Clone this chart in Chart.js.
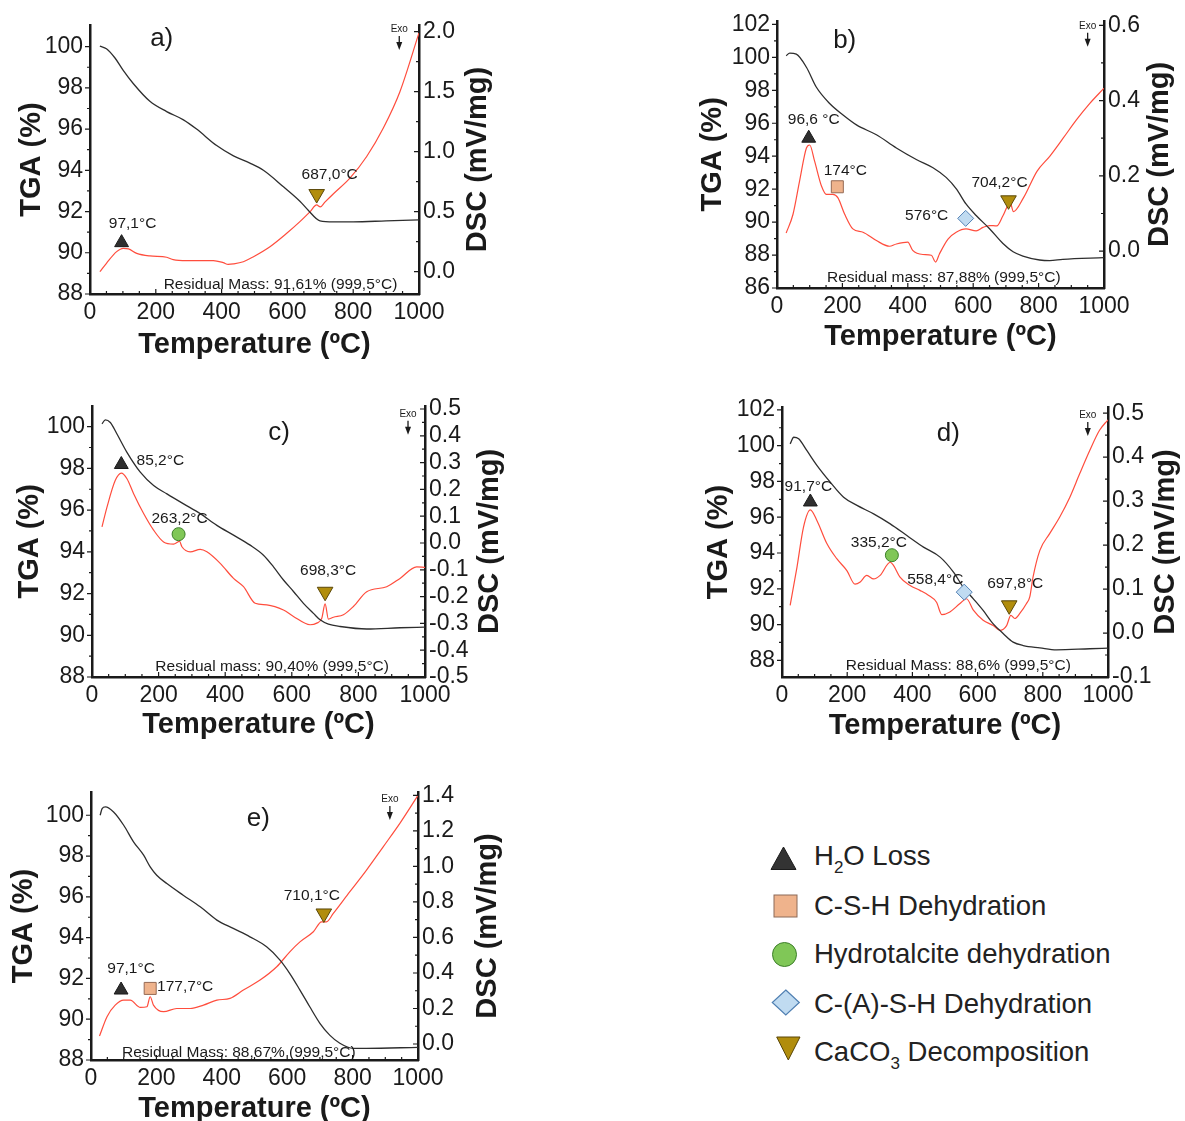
<!DOCTYPE html>
<html>
<head>
<meta charset="utf-8">
<script src="https://cdn.jsdelivr.net/npm/chart.js@4.4.1/dist/chart.umd.min.js"></script>
<style>
  body { margin: 0; background: #fff; width: 1185px; height: 1121px; position: relative; overflow: hidden;
         font-family: "Liberation Sans", Arial, sans-serif; }
  canvas { position: absolute; }
  #legend { position: absolute; left: 740px; top: 820px; }
</style>
</head>
<body>
<canvas id="pa"></canvas>
<canvas id="pb"></canvas>
<canvas id="pc"></canvas>
<canvas id="pd"></canvas>
<canvas id="pe"></canvas>
<svg id="legend" width="445" height="260" font-family="Liberation Sans, Arial, sans-serif" font-size="27.5" fill="#222">
  <polygon points="43.5,27 31,49.5 56,49.5" fill="#333" stroke="#1c1c1c" stroke-width="1"/>
  <text x="74" y="45">H<tspan font-size="17" dy="8">2</tspan><tspan dy="-8">O Loss</tspan></text>
  <rect x="34" y="75" width="23" height="22" fill="#efb38c" stroke="#8c6a58" stroke-width="1"/>
  <text x="74" y="95">C-S-H Dehydration</text>
  <circle cx="44.5" cy="134.5" r="12" fill="#80c757" stroke="#3d7f2a" stroke-width="1"/>
  <text x="74" y="143">Hydrotalcite dehydration</text>
  <polygon points="45.8,170 59.3,182.5 45.8,195 32.3,182.5" fill="#c0dbf1" stroke="#4f7fb2" stroke-width="1.2"/>
  <text x="74" y="192.5">C-(A)-S-H Dehydration</text>
  <polygon points="36.7,217 60,217 48.3,240" fill="#b18d0c" stroke="#5a4708" stroke-width="1"/>
  <text x="74" y="240.5">CaCO<tspan font-size="17" dy="8">3</tspan><tspan dy="-8"> Decomposition</tspan></text>
</svg>
<script>
// ---- panel a) ----
const aTgaT = [30, 50, 76, 101, 132, 182, 233, 284, 324, 385, 436, 486, 527, 588, 638, 664, 699, 740, 800, 900, 1000];
const aTga = [100.03, 99.9, 99.45, 98.85, 98.2, 97.35, 96.85, 96.45, 96.0, 95.2, 94.7, 94.35, 94.0, 93.2, 92.5, 92.05, 91.55, 91.5, 91.5, 91.55, 91.6];
const aDscT = [30, 50, 81, 101, 117, 142, 182, 233, 253, 294, 334, 375, 405, 420, 436, 466, 497, 547, 598, 638, 669, 689, 700, 714, 740, 790, 841, 892, 942, 1000];
const aDsc = [0.0, 0.07, 0.167, 0.195, 0.19, 0.153, 0.131, 0.12, 0.1, 0.092, 0.092, 0.092, 0.075, 0.061, 0.065, 0.083, 0.125, 0.208, 0.32, 0.417, 0.5, 0.556, 0.54, 0.58, 0.65, 0.78, 0.96, 1.2, 1.5, 1.99];
const aMarkKind = ['h2o', 'caco3'];
const aMarkT = [96, 689];
const aMarkDsc = [0.242, 0.647];
const aMarkLabel = ['97,1°C', '687,0°C'];
const aTgaTicks = [88, 90, 92, 94, 96, 98, 100];
const aDscTicks = [0, 0.5, 1.0, 1.5, 2.0];

// ---- panel b) ----
const bTgaT = [28, 39, 59, 90, 120, 161, 202, 243, 304, 365, 426, 477, 518, 549, 578, 609, 650, 691, 722, 752, 803, 834, 874, 1000];
const bTga = [100.1, 100.26, 100.2, 99.4, 98.2, 97.2, 96.5, 95.9, 95.3, 94.5, 93.8, 93.3, 92.7, 92.0, 91.1, 90.4, 89.6, 88.7, 88.2, 87.94, 87.7, 87.66, 87.74, 87.84];
const bDscT = [28, 49, 69, 90, 100, 115, 136, 151, 171, 186, 207, 232, 263, 304, 344, 365, 400, 415, 446, 472, 485, 497, 523, 548, 578, 609, 630, 650, 672, 691, 713, 723, 754, 795, 834, 875, 915, 956, 1000];
const bDsc = [0.048, 0.098, 0.186, 0.274, 0.282, 0.239, 0.173, 0.151, 0.151, 0.142, 0.098, 0.059, 0.05, 0.028, 0.013, 0.019, 0.024, 0.002, -0.009, -0.011, -0.029, -0.007, 0.032, 0.05, 0.059, 0.054, 0.063, 0.068, 0.067, 0.094, 0.129, 0.105, 0.142, 0.212, 0.252, 0.3, 0.348, 0.392, 0.433];
const bMarkKind = ['h2o', 'csh', 'cash', 'caco3'];
const bMarkT = [97, 184.5, 577, 708];
const bMarkDsc = [0.3, 0.171, 0.087, 0.135];
const bMarkLabel = ['96,6 °C', '174°C', '576°C', '704,2°C'];
const bTgaTicks = [86, 88, 90, 92, 94, 96, 98, 100, 102];
const bDscTicks = [0, 0.2, 0.4, 0.6];

// ---- panel c) ----
const cTgaT = [30, 40, 55, 75, 105, 145, 185, 225, 275, 325, 375, 425, 475, 515, 545, 575, 605, 635, 665, 685, 710, 745, 825, 925, 1000];
const cTga = [100.13, 100.33, 100.2, 99.65, 98.77, 97.82, 97.18, 96.78, 96.3, 95.83, 95.27, 94.8, 94.32, 93.84, 93.28, 92.65, 92.1, 91.53, 91.05, 90.74, 90.53, 90.42, 90.3, 90.36, 90.39];
const cDscT = [30, 45, 70, 88, 105, 125, 155, 185, 215, 245, 263, 270, 295, 325, 345, 385, 425, 455, 490, 525, 575, 605, 655, 675, 690, 700, 710, 725, 755, 785, 825, 885, 925, 975, 1000];
const cDsc = [0.06, 0.134, 0.234, 0.261, 0.24, 0.184, 0.11, 0.048, 0.004, -0.004, 0.006, -0.014, -0.033, -0.024, -0.033, -0.076, -0.132, -0.163, -0.225, -0.231, -0.25, -0.274, -0.305, -0.299, -0.281, -0.227, -0.284, -0.277, -0.268, -0.237, -0.182, -0.163, -0.132, -0.089, -0.091];
const cMarkKind = ['h2o', 'ht', 'caco3'];
const cMarkT = [88, 260, 700];
const cMarkDsc = [0.293, 0.033, -0.182];
const cMarkLabel = ['85,2°C', '263,2°C', '698,3°C'];
const cTgaTicks = [88, 90, 92, 94, 96, 98, 100];
const cDscTicks = [-0.5, -0.4, -0.3, -0.2, -0.1, 0, 0.1, 0.2, 0.3, 0.4, 0.5];

// ---- panel d) ----
const dTgaT = [25, 36, 51, 76, 107, 148, 189, 230, 281, 332, 383, 434, 485, 526, 556, 587, 617, 648, 679, 709, 740, 791, 842, 944, 1000];
const dTga = [100.1, 100.47, 100.38, 99.73, 98.9, 97.96, 97.12, 96.66, 96.19, 95.63, 94.98, 94.33, 93.77, 92.93, 92.09, 91.44, 90.79, 90.04, 89.49, 89.02, 88.83, 88.7, 88.59, 88.65, 88.68];
const dDscT = [25, 46, 66, 87, 107, 138, 168, 199, 224, 240, 260, 281, 301, 332, 342, 362, 393, 423, 449, 474, 490, 515, 546, 566, 587, 617, 648, 668, 689, 702, 714, 730, 750, 760, 770, 791, 821, 852, 883, 913, 944, 974, 1000];
const dDsc = [0.063, 0.15, 0.241, 0.28, 0.256, 0.203, 0.169, 0.142, 0.111, 0.116, 0.131, 0.123, 0.131, 0.161, 0.154, 0.127, 0.108, 0.097, 0.086, 0.07, 0.042, 0.048, 0.067, 0.078, 0.052, 0.029, 0.017, 0.006, 0.017, 0.04, 0.033, 0.045, 0.067, 0.082, 0.127, 0.188, 0.226, 0.264, 0.309, 0.362, 0.415, 0.461, 0.485];
const dMarkKind = ['h2o', 'ht', 'cash', 'caco3'];
const dMarkT = [87, 337, 559, 697];
const dMarkDsc = [0.298, 0.177, 0.093, 0.063];
const dMarkLabel = ['91,7°C', '335,2°C', '558,4°C', '697,8°C'];
const dTgaTicks = [88, 90, 92, 94, 96, 98, 100, 102];
const dDscTicks = [-0.1, 0, 0.1, 0.2, 0.3, 0.4, 0.5];

// ---- panel e) ----
const eTgaT = [28, 34, 44, 69, 100, 130, 161, 181, 201, 232, 282, 334, 385, 435, 486, 537, 578, 608, 639, 669, 700, 730, 761, 802, 842, 1000];
const eTga = [100.0, 100.33, 100.41, 100.16, 99.51, 98.7, 98.04, 97.47, 97.06, 96.65, 96.08, 95.51, 94.86, 94.45, 94.04, 93.55, 92.9, 92.24, 91.43, 90.61, 89.8, 89.22, 88.82, 88.57, 88.57, 88.62];
const eDscT = [26, 49, 74, 100, 120, 151, 171, 181, 191, 222, 262, 303, 344, 385, 425, 466, 517, 568, 608, 639, 680, 705, 720, 741, 791, 842, 893, 944, 1000];
const eDsc = [0.045, 0.154, 0.219, 0.247, 0.247, 0.206, 0.21, 0.266, 0.219, 0.182, 0.2, 0.2, 0.219, 0.247, 0.257, 0.304, 0.36, 0.435, 0.519, 0.575, 0.632, 0.688, 0.688, 0.735, 0.856, 0.978, 1.109, 1.241, 1.4];
const eMarkKind = ['h2o', 'csh', 'caco3'];
const eMarkT = [92, 181, 712];
const eMarkDsc = [0.304, 0.313, 0.735];
const eMarkLabel = ['97,1°C', '177,7°C', '710,1°C'];
const eTgaTicks = [88, 90, 92, 94, 96, 98, 100];
const eDscTicks = [0, 0.2, 0.4, 0.6, 0.8, 1.0, 1.2, 1.4];

const tempTicks = [0, 200, 400, 600, 800, 1000];

const FONT = '"Liberation Sans", Arial, sans-serif';

// marker look per event type
const markStyle = {
  h2o:   { pointStyle: 'triangle', radius: 8,   rotation: 0,   fill: '#2f2f2f', stroke: '#1a1a1a' },
  csh:   { pointStyle: 'rect',     radius: 8.5, rotation: 0,   fill: '#efb38c', stroke: '#946a55' },
  ht:    { pointStyle: 'circle',   radius: 6.5, rotation: 0,   fill: '#80c757', stroke: '#3d7f2a' },
  cash:  { pointStyle: 'rectRot',  radius: 8,   rotation: 0,   fill: '#c0dbf1', stroke: '#5482b5' },
  caco3: { pointStyle: 'triangle', radius: 9,   rotation: 180, fill: '#b18d0c', stroke: '#5a4708' }
};

function pts(ts, vs) {
  return ts.map((t, i) => ({ x: t, y: vs[i] }));
}

const panels = [
  { id: 'pa', letter: 'a)', box: [0, 0, 510, 365], area: [90, 25, 419, 294],
    tgaRange: [88, 101.05], dscRange: [-0.186, 2.056],
    tga: pts(aTgaT, aTga), dsc: pts(aDscT, aDsc),
    marks: { kind: aMarkKind, t: aMarkT, v: aMarkDsc, label: aMarkLabel },
    labelOff: [[11, -19], [13, -19]],
    tgaTicks: aTgaTicks, dscTicks: aDscTicks,
    titleOff: [-58, 59, 59], letterPos: [218, 14], exoPos: [940, 4],
    residual: 'Residual Mass: 91,61% (999,5°C)', residualPos: [579, -5] },
  { id: 'pb', letter: 'b)', box: [690, 0, 495, 362], area: [777, 18, 1104, 288],
    tgaRange: [86, 102.22], dscRange: [-0.098, 0.612],
    tga: pts(bTgaT, bTga), dsc: pts(bDscT, bDsc),
    marks: { kind: bMarkKind, t: bMarkT, v: bMarkDsc, label: bMarkLabel },
    labelOff: [[5, -18], [8, -16], [-39, -3], [-9, -18]],
    tgaTicks: bTgaTicks, dscTicks: bDscTicks,
    titleOff: [-64, 56, 57], letterPos: [207, 20], exoPos: [950, 5],
    residual: 'Residual mass: 87,88% (999,5°C)', residualPos: [510, -6] },
  { id: 'pc', letter: 'c)', box: [0, 385, 515, 360], area: [92, 405, 425, 677],
    tgaRange: [88, 101.0], dscRange: [-0.5, 0.512],
    tga: pts(cTgaT, cTga), dsc: pts(cDscT, cDsc),
    marks: { kind: cMarkKind, t: cMarkT, v: cMarkDsc, label: cMarkLabel },
    labelOff: [[39, -4], [1, -15], [3, -21]],
    tgaTicks: cTgaTicks, dscTicks: cDscTicks,
    titleOff: [-62, 65, 56], letterPos: [562, 27], exoPos: [949, 8],
    residual: 'Residual mass: 90,40% (999,5°C)', residualPos: [541, -6] },
  { id: 'pd', letter: 'd)', box: [690, 385, 495, 360], area: [782, 407, 1108, 677],
    tgaRange: [87.07, 102.16], dscRange: [-0.1, 0.514],
    tga: pts(dTgaT, dTga), dsc: pts(dDscT, dDsc),
    marks: { kind: dMarkKind, t: dMarkT, v: dMarkDsc, label: dMarkLabel },
    labelOff: [[-2, -15], [-13, -12], [-29, -12], [6, -22]],
    tgaTicks: dTgaTicks, dscTicks: dDscTicks,
    titleOff: [-63, 58, 57], letterPos: [510, 27], exoPos: [938, 8],
    residual: 'Residual Mass: 88,6% (999,5°C)', residualPos: [541, -7] },
  { id: 'pe', letter: 'e)', box: [0, 770, 515, 351], area: [91, 792, 418, 1060],
    tgaRange: [88, 101.14], dscRange: [-0.09, 1.419],
    tga: pts(eTgaT, eTga), dsc: pts(eDscT, eDsc),
    marks: { kind: eMarkKind, t: eMarkT, v: eMarkDsc, label: eMarkLabel },
    labelOff: [[10, -21], [35, -2], [-12, -18]],
    tgaTicks: eTgaTicks, dscTicks: eDscTicks,
    titleOff: [-67, 70, 57], letterPos: [512, 27], exoPos: [914, 7],
    residual: 'Residual Mass: 88,67% (999,5°C)', residualPos: [452, -3] }
];

// tick marks, titles and the text notes on each panel
function drawDeco(chart, p) {
  const ctx = chart.ctx;
  const area = chart.chartArea;
  const sx = chart.scales.x, st = chart.scales.tga, sd = chart.scales.dsc;
  ctx.save();
  ctx.strokeStyle = '#1a1a1a';
  ctx.lineWidth = 1.2;
  ctx.beginPath();
  p.tgaTicks.forEach((v, i) => {
    const y = st.getPixelForValue(v);
    ctx.moveTo(area.left - 5, y); ctx.lineTo(area.left, y);
    if (i < p.tgaTicks.length - 1) {
      const ym = st.getPixelForValue((v + p.tgaTicks[i + 1]) / 2);
      ctx.moveTo(area.left - 3, ym); ctx.lineTo(area.left, ym);
    }
  });
  p.dscTicks.forEach((v, i) => {
    const y = sd.getPixelForValue(v);
    ctx.moveTo(area.right - 5, y); ctx.lineTo(area.right, y);
    if (i < p.dscTicks.length - 1) {
      const ym = sd.getPixelForValue((v + p.dscTicks[i + 1]) / 2);
      ctx.moveTo(area.right - 3, ym); ctx.lineTo(area.right, ym);
    }
  });
  for (let t = 50; t < 1000; t += 50) {
    const x = sx.getPixelForValue(t);
    ctx.moveTo(x, area.bottom); ctx.lineTo(x, area.bottom - (t % 200 === 0 ? 5 : 3));
  }
  ctx.stroke();

  ctx.fillStyle = '#1a1a1a';
  // axis titles
  ctx.font = 'bold 29px ' + FONT;
  ctx.textAlign = 'center';
  ctx.textBaseline = 'alphabetic';
  ctx.fillText('Temperature (ºC)', (area.left + area.right) / 2, area.bottom + p.titleOff[2]);
  ctx.textBaseline = 'middle';
  const midY = (area.top + area.bottom) / 2;
  [[area.left + p.titleOff[0], 'TGA (%)'], [area.right + p.titleOff[1], 'DSC (mV/mg)']].forEach(([x, txt]) => {
    ctx.save();
    ctx.translate(x, midY);
    ctx.rotate(-Math.PI / 2);
    ctx.fillText(txt, 0, 0);
    ctx.restore();
  });

  // panel letter
  ctx.font = '26px ' + FONT;
  ctx.fillText(p.letter, sx.getPixelForValue(p.letterPos[0]), area.top + p.letterPos[1]);

  // Exo arrow
  const ex = sx.getPixelForValue(p.exoPos[0]);
  const ey = area.top + p.exoPos[1];
  ctx.font = '10px ' + FONT;
  ctx.fillText('Exo', ex, ey);
  ctx.beginPath();
  ctx.lineWidth = 1.3;
  ctx.moveTo(ex, ey + 7); ctx.lineTo(ex, ey + 15);
  ctx.stroke();
  ctx.beginPath();
  ctx.moveTo(ex - 3, ey + 13); ctx.lineTo(ex + 3, ey + 13); ctx.lineTo(ex, ey + 21);
  ctx.closePath();
  ctx.fill();

  // residual mass note
  ctx.font = '15.5px ' + FONT;
  ctx.textBaseline = 'alphabetic';
  ctx.fillText(p.residual, sx.getPixelForValue(p.residualPos[0]), area.bottom + p.residualPos[1]);

  // peak temperatures
  ctx.textBaseline = 'middle';
  p.marks.label.forEach((lab, i) => {
    const x = sx.getPixelForValue(p.marks.t[i]);
    const y = sd.getPixelForValue(p.marks.v[i]);
    ctx.fillText(lab, x + p.labelOff[i][0], y + p.labelOff[i][1]);
  });
  ctx.restore();
}

function yAxis(pos, range, ticks, width, fmt) {
  return {
    type: 'linear',
    position: pos,
    min: range[0],
    max: range[1],
    afterBuildTicks: s => { s.ticks = ticks.map(v => ({ value: v })); },
    afterFit: s => { s.width = width; },
    grid: { display: false, drawTicks: false },
    border: { display: true, width: 2.5, color: '#1a1a1a' },
    ticks: {
      autoSkip: false,
      padding: pos === 'left' ? 7 : 4,
      color: '#1a1a1a',
      font: { family: FONT, size: 23 },
      callback: fmt
    }
  };
}

function buildChart(p) {
  const cv = document.getElementById(p.id);
  cv.width = p.box[2];
  cv.height = p.box[3];
  cv.style.left = p.box[0] + 'px';
  cv.style.top = p.box[1] + 'px';
  const leftW = p.area[0] - p.box[0];
  const rightW = p.box[0] + p.box[2] - p.area[2];
  const bottomH = p.box[1] + p.box[3] - p.area[3];

  const markSets = p.marks.kind.map((k, i) => {
    const st = markStyle[k];
    return {
      data: [{ x: p.marks.t[i], y: p.marks.v[i] }],
      yAxisID: 'dsc',
      showLine: false,
      pointStyle: st.pointStyle,
      pointRadius: st.radius,
      pointRotation: st.rotation,
      pointBackgroundColor: st.fill,
      pointBorderColor: st.stroke,
      pointBorderWidth: 1
    };
  });

  new Chart(cv, {
    type: 'line',
    data: {
      datasets: markSets.concat([
        { data: p.tga, yAxisID: 'tga', borderColor: '#2e2e2e', borderWidth: 1.3,
          pointRadius: 0, cubicInterpolationMode: 'monotone' },
        { data: p.dsc, yAxisID: 'dsc', borderColor: '#ff4d3d', borderWidth: 1.2,
          pointRadius: 0, cubicInterpolationMode: 'monotone' }
      ])
    },
    options: {
      responsive: false,
      animation: false,
      devicePixelRatio: 1,
      layout: { padding: { top: p.area[1] - p.box[1], left: 0, right: 0, bottom: 0 } },
      plugins: { legend: { display: false }, tooltip: { enabled: false } },
      scales: {
        x: {
          type: 'linear',
          position: 'bottom',
          min: 0,
          max: 1000,
          afterBuildTicks: s => { s.ticks = tempTicks.map(v => ({ value: v })); },
          afterFit: s => { s.height = bottomH; },
          grid: { display: false, drawTicks: false },
          border: { display: true, width: 2.5, color: '#1a1a1a' },
          ticks: { autoSkip: false, maxRotation: 0, padding: 5, color: '#1a1a1a',
                   font: { family: FONT, size: 23 }, callback: v => String(v) }
        },
        tga: yAxis('left', p.tgaRange, p.tgaTicks, leftW, v => String(v)),
        dsc: yAxis('right', p.dscRange, p.dscTicks, rightW, v => v.toFixed(1))
      }
    },
    plugins: [{ id: 'deco', afterDraw: chart => drawDeco(chart, p) }]
  });
}

panels.forEach(buildChart);
</script>
</body>
</html>
